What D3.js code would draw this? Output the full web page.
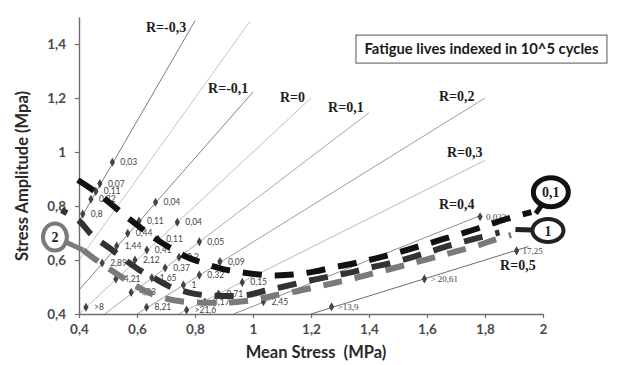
<!DOCTYPE html>
<html><head><meta charset="utf-8">
<script src="https://cdn.jsdelivr.net/npm/d3@7"></script>
<style>body{margin:0;background:#fff}svg{display:block}</style>
</head><body>
<svg id="c" width="622" height="365"></svg>
<script>
// ---------- data ----------
const xTicks = [0.4, 0.6, 0.8, 1, 1.2, 1.4, 1.6, 1.8, 2];
const yTicks = [0.4, 0.6, 0.8, 1, 1.2, 1.4];

// constant stress-ratio lines (sigma_a = sigma_m (1-R)/(1+R)), drawn up to given mean stress
const rRatios   = [-0.3, -0.2, -0.1, 0, 0.1, 0.2, 0.3, 0.4, 0.5];
const rLineEnds = [0.80, 0.99, 1.00, 1.20, 1.40, 1.80, 1.80, 1.78, 1.95];

const rLabels      = ["R=-0,3", "R=-0,1", "R=0", "R=0,1", "R=0,2", "R=0,3", "R=0,4", "R=0,5"];
const rLabelMean   = [0.631, 0.845, 1.093, 1.259, 1.641, 1.669, 1.641, 1.852];
const rLabelAmp    = [1.444, 1.219, 1.185, 1.148, 1.189, 0.981, 0.789, 0.563];

// test points: mean stress, stress amplitude, fatigue life label (10^5 cycles)
const ptMean  = [0.515, 0.472, 0.458, 0.441, 0.413,
                 0.664, 0.607, 0.568, 0.530, 0.480,
                 0.739, 0.673, 0.634, 0.593, 0.527, 0.424,
                 0.815, 0.745, 0.697, 0.651, 0.580,
                 0.886, 0.815, 0.760, 0.633,
                 0.963, 0.881, 0.834, 0.771,
                 1.036];
const ptAmp   = [0.962, 0.883, 0.854, 0.825, 0.770,
                 0.814, 0.744, 0.699, 0.652, 0.589,
                 0.740, 0.678, 0.637, 0.600, 0.530, 0.425,
                 0.668, 0.610, 0.571, 0.534, 0.480,
                 0.594, 0.544, 0.507, 0.425,
                 0.517, 0.474, 0.444, 0.415,
                 0.446];
const ptLabel = ["0,03", "0,07", "0,11", "0,22", "0,8",
                 "0,04", "0,11", "0,44", "1,44", "2,89",
                 "0,04", "0,11", "0,41", "2,12", "4,21", ">8",
                 "0,05", "0,2", "0,37", "1,65", "4,23",
                 "0,09", "0,32", "1", "8,21",
                 "0,15", "0,71", "3,17", ">21,6",
                 "2,45"];
// high mean-stress points (R=0,4 and R=0,5)
const hiMean  = [1.783, 1.271, 1.591, 1.909];
const hiAmp   = [0.760, 0.427, 0.530, 0.634];
const hiLabel = ["0,023", ">13,9", "> 20,61", "17,25"];

// fitted life curves (dashed)
const curve01 = [[0.396,0.896],[0.46,0.850],[0.51,0.808],[0.56,0.763],[0.61,0.722],[0.66,0.681],[0.71,0.648],
  [0.77,0.612],[0.83,0.588],[0.89,0.568],[0.95,0.556],[1.02,0.546],[1.08,0.543],[1.14,0.546],[1.21,0.557],
  [1.28,0.573],[1.35,0.588],[1.42,0.605],[1.50,0.628],[1.58,0.653],[1.66,0.679],[1.74,0.705],[1.82,0.733],
  [1.90,0.760],[1.96,0.777]];
const curve1 = [[0.340,0.785],[0.403,0.742],[0.444,0.693],[0.507,0.643],[0.547,0.610],[0.604,0.566],
  [0.651,0.538],[0.714,0.501],[0.776,0.480],[0.83,0.470],[0.90,0.467],[0.98,0.470],[1.04,0.486],[1.10,0.500],
  [1.20,0.525],[1.29,0.544],[1.35,0.557],[1.41,0.573],[1.48,0.590],[1.55,0.611],[1.61,0.631],[1.67,0.651],
  [1.73,0.669],[1.79,0.686],[1.85,0.702]];
const curve2 = [[0.414,0.637],[0.455,0.603],[0.51,0.563],[0.56,0.528],[0.62,0.490],[0.68,0.463],[0.75,0.447],
  [0.83,0.442],[0.92,0.443],[1.0,0.452],[1.07,0.468],[1.14,0.482],[1.21,0.498],[1.28,0.515],[1.35,0.532],
  [1.42,0.552],[1.50,0.574],[1.57,0.594],[1.64,0.614],[1.70,0.632],[1.77,0.652],[1.83,0.674],[1.89,0.693]];

// callout circles: text, centre (mean, amp), handle start (mean, amp)
const calloutText  = ["0,1", "1", "2"];
const calloutMean  = [2.027, 2.017, 0.317];
const calloutAmp   = [0.851, 0.709, 0.685];
const handleMean   = [1.975, 1.905, 0.414];
const handleAmp    = [0.772, 0.713, 0.637];

const boxText = "Fatigue lives indexed in 10^5 cycles";

// ---------- drawing ----------
const svg = d3.select("#c");
const x = d3.scaleLinear([0.4, 2], [79, 543]);
const y = d3.scaleLinear([0.4, 1.5], [314, 17]);
const fmt = d => String(d).replace(".", ",");
const SANS = "Lato, 'Open Sans', sans-serif";
const SERIF = "'Liberation Serif', 'Times New Roman', serif";

// R lines
const rColors = ["#7c7c7c", "#c6c6c6", "#858585", "#bdbdbd", "#a9a9a9", "#9c9c9c", "#b9b9b9", "#8e8e8e", "#6c6c6c"];
rRatios.forEach((R, i) => {
  const k = (1 - R) / (1 + R);
  const m0 = Math.max(0.4, 0.4 / k);
  const m1 = rLineEnds[i];
  svg.append("line")
    .attr("x1", x(m0)).attr("y1", y(m0 * k))
    .attr("x2", x(m1)).attr("y2", y(m1 * k))
    .attr("stroke", rColors[i]).attr("stroke-width", 1);
});

// axes
const gx = svg.append("g").attr("transform", `translate(0,${y(0.4)})`)
  .call(d3.axisBottom(x).tickValues(xTicks).tickFormat(fmt).tickSize(4).tickSizeOuter(0).tickPadding(6));
const gy = svg.append("g").attr("transform", `translate(${x(0.4)},0)`)
  .call(d3.axisLeft(y).tickValues(yTicks).tickFormat(fmt).tickSize(4).tickSizeOuter(0).tickPadding(9));
[gx, gy].forEach(g => {
  g.select(".domain").attr("stroke", "#6e6e6e").attr("stroke-width", 1.4);
  g.selectAll(".tick line").attr("stroke", "#6e6e6e").attr("stroke-width", 1.2);
  g.selectAll(".tick text").attr("font-family", SANS).attr("font-weight", "bold")
    .attr("font-size", 13.5).attr("fill", "#4a4a4a");
});

// points
const sym = d3.symbol().type(d3.symbolDiamond).size(24);
const pts = ptMean.map((m, i) => ({m, a: ptAmp[i], t: ptLabel[i]}));
const gp = svg.append("g");
gp.selectAll("path").data(pts).join("path")
  .attr("d", sym).attr("transform", d => `translate(${x(d.m)},${y(d.a)})`).attr("fill", "#444");
gp.selectAll("text").data(pts).join("text")
  .attr("x", d => x(d.m) + 8).attr("y", d => y(d.a) + 3)
  .attr("font-family", SANS).attr("font-size", 8.5).attr("fill", "#444").text(d => d.t);

const hpts = hiMean.map((m, i) => ({m, a: hiAmp[i], t: hiLabel[i]}));
const gh = svg.append("g");
gh.selectAll("path").data(hpts).join("path")
  .attr("d", sym).attr("transform", d => `translate(${x(d.m)},${y(d.a)})`).attr("fill", "#444");
gh.selectAll("text").data(hpts).join("text")
  .attr("x", d => x(d.m) + 6).attr("y", d => y(d.a) + 3)
  .attr("font-family", SERIF).attr("font-size", 9).attr("fill", "#444").text(d => d.t);

// dashed curves
const line = d3.line().x(d => x(d[0])).y(d => y(d[1])).curve(d3.curveCatmullRom.alpha(0.5));
const DASH = 19, GAP = 13;
// find path length where the path reaches a given screen x
function lengthAtX(node, px) {
  let lo = 0, hi = node.getTotalLength();
  for (let k = 0; k < 30; k++) {
    const mid = (lo + hi) / 2;
    if (node.getPointAtLength(mid).x < px) lo = mid; else hi = mid;
  }
  return lo;
}
[[curve2, "#7a7a7a", null], [curve1, "#333333", 0.88], [curve01, "#111111", null]].forEach(([c, col, centreAt]) => {
  const p = svg.append("path").attr("d", line(c)).attr("fill", "none").attr("stroke", col)
    .attr("stroke-width", 6).attr("stroke-dasharray", `${DASH},${GAP}`);
  if (centreAt !== null) {
    const L0 = lengthAtX(p.node(), x(centreAt) + 6);
    const per = DASH + GAP;
    const off = (((DASH / 2 - L0) % per) + per) % per;
    p.attr("stroke-dashoffset", off);
  }
});

// R labels
rLabels.forEach((t, i) => {
  svg.append("text").attr("x", x(rLabelMean[i])).attr("y", y(rLabelAmp[i]))
    .attr("font-family", SERIF).attr("font-weight", "bold").attr("font-size", 14)
    .attr("fill", "#1e1e1e").text(t);
});

// callouts
const cRx = [17.5, 15.5, 12], cRy = [14.5, 11.5, 13.5];
const cCol = ["#111111", "#222222", "#7a7a7a"], cW = [5, 4, 4];
calloutText.forEach((t, i) => {
  const cx = x(calloutMean[i]), cy = y(calloutAmp[i]);
  const hx = x(handleMean[i]), hy = y(handleAmp[i]);
  const ang = Math.atan2((hy - cy) / cRy[i], (hx - cx) / cRx[i]);
  const ex = cx + cRx[i] * Math.cos(ang), ey = cy + cRy[i] * Math.sin(ang);
  svg.append("line").attr("x1", hx).attr("y1", hy).attr("x2", ex).attr("y2", ey)
    .attr("stroke", cCol[i]).attr("stroke-width", 5);
  svg.append("ellipse").attr("cx", cx).attr("cy", cy).attr("rx", cRx[i]).attr("ry", cRy[i])
    .attr("fill", "#fff").attr("stroke", cCol[i]).attr("stroke-width", cW[i]);
  svg.append("text").attr("x", cx).attr("y", cy + 5).attr("text-anchor", "middle")
    .attr("font-family", SERIF).attr("font-weight", "bold").attr("font-size", 14)
    .attr("fill", "#222").text(t);
});

// box annotation
const bx = x(1.355), by = y(1.433);
svg.append("rect").attr("x", bx).attr("y", by).attr("width", 251).attr("height", 28)
  .attr("fill", "#fff").attr("stroke", "#555").attr("stroke-width", 1);
svg.append("text").attr("x", bx + 125.5).attr("y", by + 19).attr("text-anchor", "middle")
  .attr("font-family", SANS).attr("font-weight", "bold").attr("font-size", 14.8)
  .attr("fill", "#1a1a1a").text(boxText);

// axis titles
svg.append("text").attr("x", 316).attr("y", 358).attr("text-anchor", "middle")
  .attr("font-family", SANS).attr("font-weight", "bold").attr("font-size", 16.5)
  .attr("fill", "#2a2a2a").text("Mean Stress\u00a0\u00a0(MPa)");
svg.append("text").attr("transform", "translate(28,176) rotate(-90)").attr("text-anchor", "middle")
  .attr("font-family", SANS).attr("font-weight", "bold").attr("font-size", 16.5)
  .attr("fill", "#2a2a2a").text("Stress Amplitude (Mpa)");
</script>
</body></html>
